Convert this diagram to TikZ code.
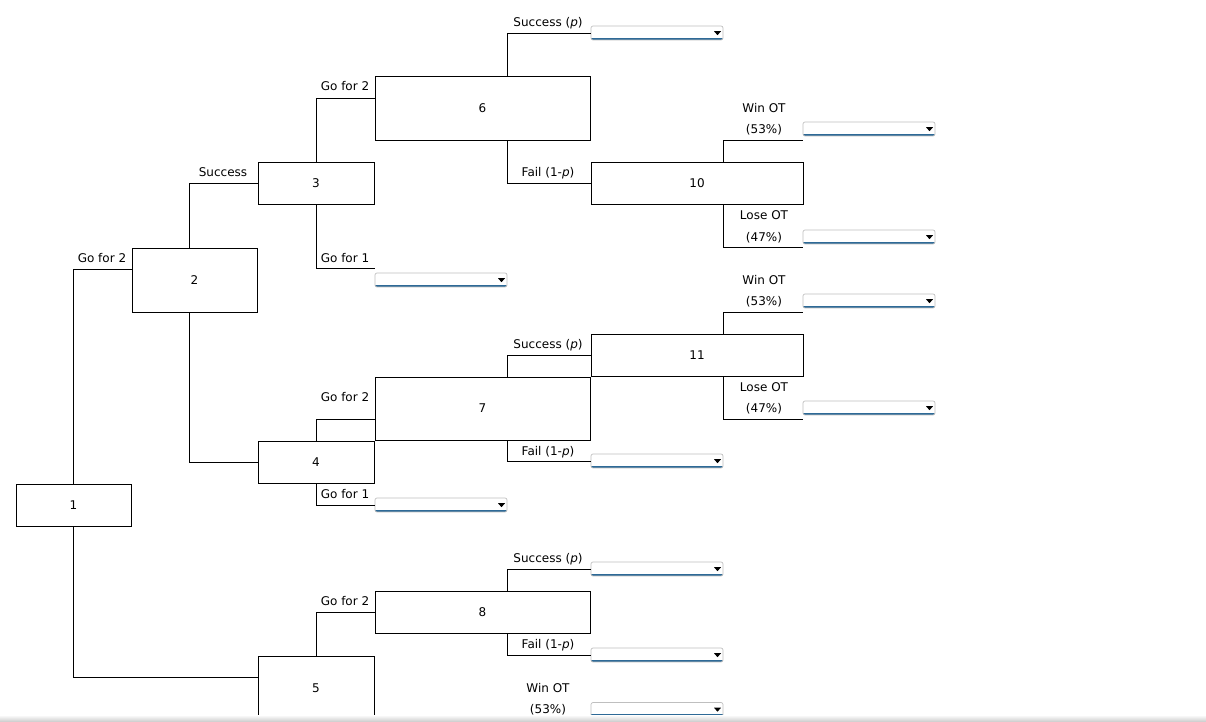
\documentclass[tikz,border=0pt]{standalone}
\usepackage{fontspec}
\setmainfont{DejaVu Sans}
\definecolor{ddblue}{HTML}{2E6A97}
\begin{document}
\begin{tikzpicture}[x=1pt,y=-1pt,
  every node/.style={font=\fontsize{12}{14}\selectfont},
  box/.style={draw, line width=0.9pt, inner sep=0pt, fill=white},
  conn/.style={line width=0.9pt},
  lab/.style={inner sep=0pt, anchor=base},
  dd/.style={draw=black!25, line width=0.7pt, fill=white, rounded corners=2pt,
    minimum width=132pt, minimum height=14pt, inner sep=0pt,
    path picture={
      \fill[ddblue, sharp corners] (path picture bounding box.south west) rectangle ([yshift=2.2pt]path picture bounding box.south east);
      \fill[black, sharp corners] ([xshift=-9pt,yshift=1.8pt]path picture bounding box.east) -- ++(7pt,0pt) -- ++(-3.5pt,-4pt) -- cycle;
    }}
]
\useasboundingbox[fill=white] (0,0) rectangle (1206,721);

% boxes
\node[box, minimum width=115pt, minimum height=42pt] (b1) at (73.5,505) {1};
\node[box, minimum width=125pt, minimum height=64pt] (b2) at (194.5,280) {2};
\node[box, minimum width=116pt, minimum height=42pt] (b3) at (316,183) {3};
\node[box, minimum width=116pt, minimum height=42pt] (b4) at (316,462) {4};
\node[box, minimum width=116pt, minimum height=64pt] (b5) at (316,688) {5};
\node[box, minimum width=215pt, minimum height=64pt] (b6) at (482.5,108) {6};
\node[box, minimum width=215pt, minimum height=63pt] (b7) at (482.5,408.5) {7};
\node[box, minimum width=215pt, minimum height=42pt] (b8) at (482.5,612) {8};
\node[box, minimum width=212pt, minimum height=42pt] (b10) at (697,183) {10};
\node[box, minimum width=212pt, minimum height=42pt] (b11) at (697,355) {11};

% dropdowns
\node[dd] (d6s) at (657,33) {};
\node[dd] (d3) at (441,280) {};
\node[dd] (d4) at (441,505) {};
\node[dd] (d10w) at (869,129) {};
\node[dd] (d10l) at (869,237) {};
\node[dd] (d7f) at (657,461) {};
\node[dd] (d11w) at (869,301) {};
\node[dd] (d11l) at (869,408) {};
\node[dd] (d8s) at (657,569) {};
\node[dd] (d8f) at (657,655) {};
\node[dd] (dlast) at (657,709.5) {};

% connectors
\draw[conn] (b1.north) |- ([yshift=11pt]b2.west);
\draw[conn] (b1.south) |- ([yshift=11pt]b5.west);
\draw[conn] ([xshift=-5.5pt]b2.north) |- (b3.west);
\draw[conn] ([xshift=-5.5pt]b2.south) |- (b4.west);
\draw[conn] (b3.north) |- ([yshift=10pt]b6.west);
\draw[conn] (b3.south) |- ([yshift=4pt]d3.north west);
\draw[conn] (b4.north) |- ([yshift=-10.5pt]b7.west);
\draw[conn] (b4.south) |- (d4.west);
\draw[conn] (b5.north) |- (b8.west);
\draw[conn] ([xshift=24.5pt]b6.north) |- (d6s.west);
\draw[conn] ([xshift=24.5pt]b6.south) |- (b10.west);
\draw[conn] ([xshift=26pt]b10.north) |- ([yshift=-4pt]d10w.south west);
\draw[conn] ([xshift=26pt]b10.south) |- ([yshift=-3pt]d10l.south west);
\draw[conn] ([xshift=24.5pt]b7.north) |- (b11.west);
\draw[conn] ([xshift=24.5pt]b7.south) |- (d7f.west);
\draw[conn] ([xshift=26pt]b11.north) |- ([yshift=-4pt]d11w.south west);
\draw[conn] ([xshift=26pt]b11.south) |- ([yshift=-4pt]d11l.south west);
\draw[conn] ([xshift=24.5pt]b8.north) |- (d8s.west);
\draw[conn] ([xshift=24.5pt]b8.south) |- (d8f.west);

% labels
\node[lab] (l12) at (102,262) {Go for 2};
\node[lab] (l23) at (223,176) {Success};
\node[lab] (l36) at (345,90) {Go for 2};
\node[lab] (l3d) at (345,262) {Go for 1};
\node[lab] (l47) at (345,401) {Go for 2};
\node[lab] (l4d) at (345,498) {Go for 1};
\node[lab] (l58) at (345,605) {Go for 2};
\node[lab] (l6s) at (548,26) {Success (\textit{p})};
\node[lab] (l6f) at (548,176) {Fail (1-\textit{p})};
\node[lab] (l10w) at (764,112) {Win OT};
\node[lab] (l10wp) at (764,133) {(53\%)};
\node[lab] (l10l) at (764,219) {Lose OT};
\node[lab] (l10lp) at (764,241) {(47\%)};
\node[lab] (l7s) at (548,348) {Success (\textit{p})};
\node[lab] (l7f) at (548,455) {Fail (1-\textit{p})};
\node[lab] (l11w) at (764,284) {Win OT};
\node[lab] (l11wp) at (764,305) {(53\%)};
\node[lab] (l11l) at (764,391) {Lose OT};
\node[lab] (l11lp) at (764,412) {(47\%)};
\node[lab] (l8s) at (548,562) {Success (\textit{p})};
\node[lab] (l8f) at (548,648) {Fail (1-\textit{p})};
\node[lab] (llw) at (548,692) {Win OT};
\node[lab] (llwp) at (548,713) {(53\%)};

% bottom shadow band
\shade[top color=white, bottom color=black!18] (0,715) rectangle (1206,721);
\end{tikzpicture}
\end{document}
